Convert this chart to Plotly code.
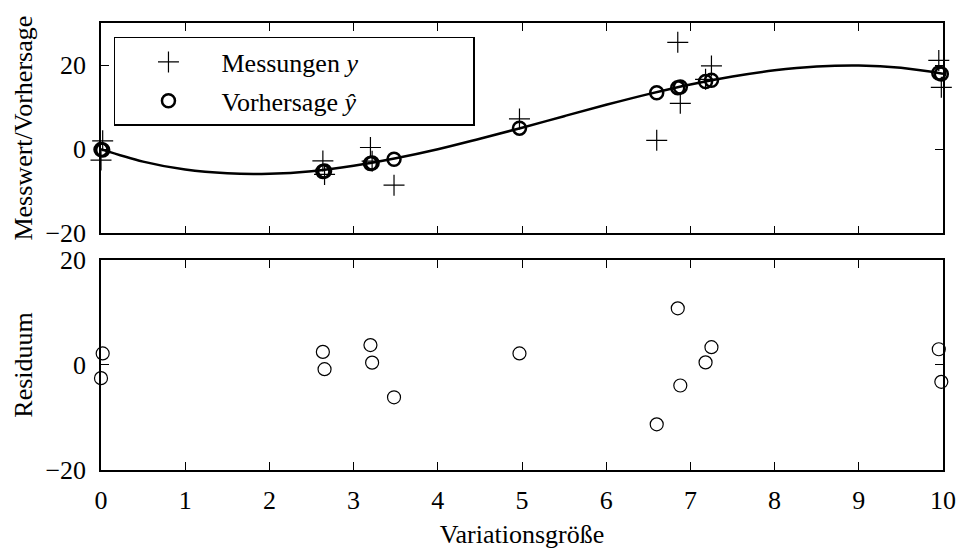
import plotly.graph_objects as go

# ---- data ----
x_data = [0.00, 0.02, 2.635, 2.655, 3.20, 3.22, 3.48, 4.97, 6.60, 6.85, 6.88, 7.18, 7.25, 9.95, 9.98]
y_meas = [-2.6, 2.0, -2.8, -6.0, 0.4, -2.85, -8.55, 7.2, 2.1, 25.4, 10.9, 16.6, 19.8, 21.1, 14.7]
y_pred = [-0.1, -0.2, -5.3, -5.2, -3.4, -3.3, -2.4, 5.0, 13.4, 14.6, 14.8, 16.1, 16.4, 18.1, 17.9]
residuals = [-2.5, 2.2, 2.5, -0.8, 3.8, 0.45, -6.15, 2.2, -11.3, 10.8, -3.9, 0.5, 3.4, 3.0, -3.2]

curve_x = [0, 0.5, 1, 1.5, 2, 2.5, 3, 3.5, 4, 4.5, 5, 5.5, 6, 6.5, 7, 7.5, 8, 8.5, 9, 9.5, 10]
curve_y = [0.0, -2.95, -4.85, -5.75, -5.85, -5.25, -3.95, -2.15, 0.0, 2.5, 5.1, 7.85, 10.55,
           13.1, 15.4, 17.3, 18.75, 19.65, 19.9, 19.35, 17.95]

x_ticks = [0, 1, 2, 3, 4, 5, 6, 7, 8, 9, 10]
y_ticks_top = [-20, 0, 20]
y_ticks_bottom = [-20, 0, 20]

FONT = "Liberation Serif"
FS = 26
PAD = "\u00a0" * 17

fig = go.Figure()
fig.add_trace(go.Scatter(x=curve_x, y=curve_y, mode="lines",
                         line=dict(color="black", width=2.5, shape="spline"),
                         showlegend=False, hoverinfo="skip", xaxis="x", yaxis="y"))
fig.add_trace(go.Scatter(x=x_data, y=y_meas, mode="markers", name="Messungen <i>y</i>" + PAD,
                         legendgroup="a", cliponaxis=False,
                         marker=dict(symbol="cross-thin-open", size=15, color="black",
                                     line=dict(color="black", width=1.2)),
                         xaxis="x", yaxis="y"))
fig.add_trace(go.Scatter(x=x_data, y=y_pred, mode="markers", name="Vorhersage <i>ŷ</i>",
                         legendgroup="b", cliponaxis=False,
                         marker=dict(symbol="circle-open", size=13, color="black",
                                     line=dict(color="black", width=2.5)),
                         xaxis="x", yaxis="y"))
fig.add_trace(go.Scatter(x=x_data, y=residuals, mode="markers", showlegend=False, cliponaxis=False,
                         marker=dict(symbol="circle-open", size=13, color="black",
                                     line=dict(color="black", width=1.2)),
                         xaxis="x2", yaxis="y2"))

axis_style = dict(showline=True, linecolor="black", linewidth=1.5, mirror="ticks",
                  ticks="inside", ticklen=8, tickwidth=1, tickcolor="black",
                  showgrid=False, zeroline=False, automargin=False,
                  tickfont=dict(family=FONT, size=FS, color="black"))

fig.update_layout(
    width=956, height=549,
    margin=dict(l=101, r=13, t=23, b=79),
    plot_bgcolor="white", paper_bgcolor="white",
    font=dict(family=FONT, size=FS, color="black"),
    xaxis=dict(domain=[0, 1], anchor="y", range=[0, 10], tickvals=x_ticks,
               showticklabels=False, matches="x2", **axis_style),
    yaxis=dict(domain=[0.5295, 1], anchor="x", range=[-20, 30], tickvals=y_ticks_top,
               ticklabelstandoff=8,
               title=dict(text="Messwert/Vorhersage", standoff=5,
                          font=dict(family=FONT, size=FS)), **axis_style),
    xaxis2=dict(domain=[0, 1], anchor="y2", range=[0, 10], tickvals=x_ticks,
                ticklabelstandoff=6, ticklabeloverflow="allow",
                title=dict(text="Variationsgröße", standoff=12,
                           font=dict(family=FONT, size=FS)), **axis_style),
    yaxis2=dict(domain=[0, 0.4698], anchor="x2", range=[-20, 20], tickvals=y_ticks_bottom,
                ticklabelstandoff=8,
                title=dict(text="Residuum", standoff=5,
                           font=dict(family=FONT, size=FS)), **axis_style),
    legend=dict(x=0.0154, y=0.9687, xanchor="left", yanchor="top",
                bordercolor="black", borderwidth=1.5, bgcolor="white",
                font=dict(family=FONT, size=FS, color="black"),
                itemwidth=96, tracegroupgap=2),
    showlegend=True,
)

fig.write_html("out.html", config={"displayModeBar": False},
               post_script="document.body.style.margin='0';document.body.style.overflow='hidden';")
